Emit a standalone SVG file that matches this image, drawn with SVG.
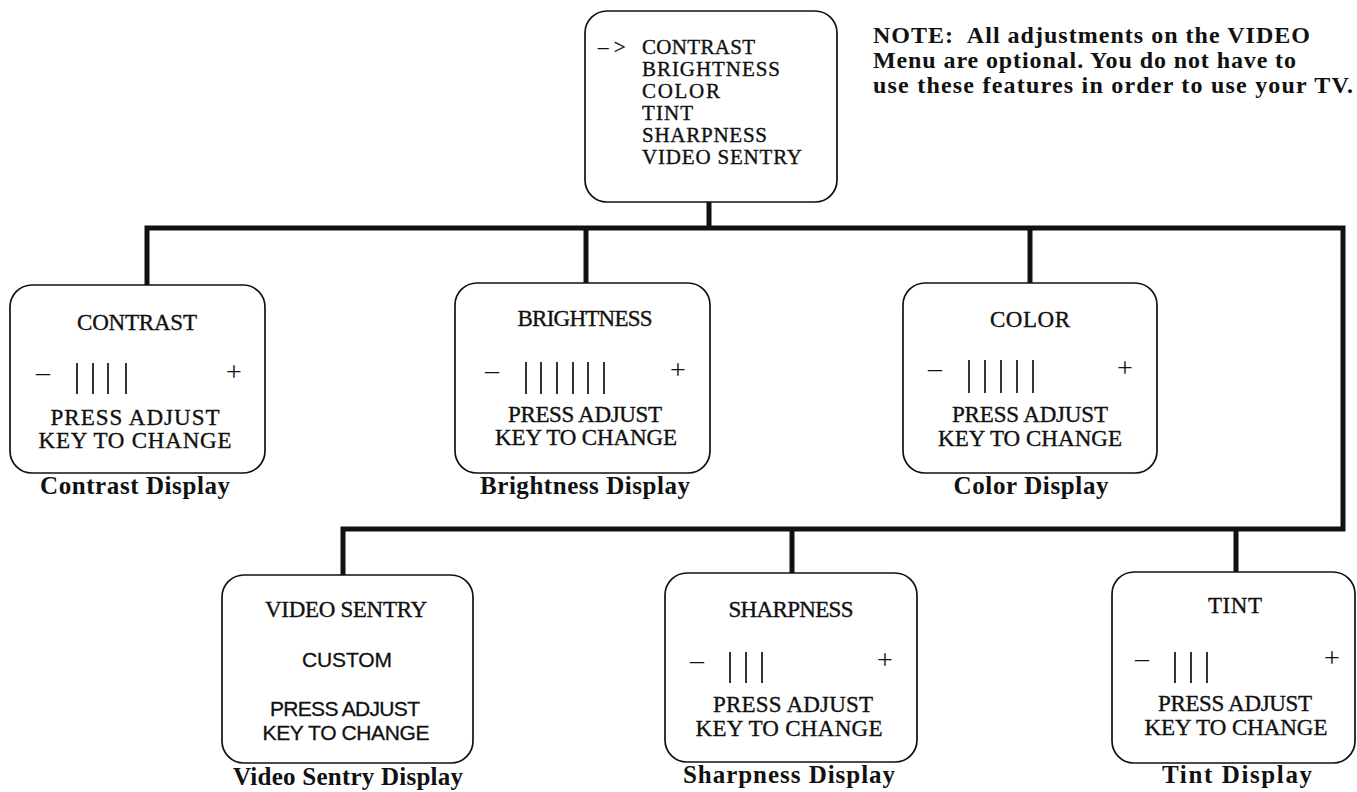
<svg xmlns="http://www.w3.org/2000/svg" width="1357" height="792" viewBox="0 0 1357 792">
<style>
.box{fill:#fff;stroke:#111;stroke-width:1.7}
.conn{fill:none;stroke:#111;stroke-width:5;stroke-linejoin:miter}
.t{font-family:"Liberation Serif","Times New Roman",serif;font-size:23px;fill:#111;stroke:#111;stroke-width:0.35}
.m{font-size:21px}
.s{font-family:"Liberation Sans",Arial,sans-serif;font-size:21px;fill:#111;stroke:#111;stroke-width:0.3}
.cap{font-family:"Liberation Serif","Times New Roman",serif;font-weight:bold;font-size:25px;fill:#111;text-anchor:middle}
.note{font-family:"Liberation Serif","Times New Roman",serif;font-weight:bold;font-size:24px;fill:#111}
.pm{font-family:"Liberation Serif","Times New Roman",serif;font-size:28px;fill:#111;text-anchor:middle}
.c{text-anchor:middle}
.bar{stroke:#111;stroke-width:1.7}
</style>
<rect width="1357" height="792" fill="#fff"/>
<g id="connectors">
<path class="conn" d="M709,202 V228"/>
<path class="conn" d="M147,285 V228 H1343 V529 H343 V575"/>
<path class="conn" d="M586,228 V283"/>
<path class="conn" d="M1030,228 V283"/>
<path class="conn" d="M792,529 V573"/>
<path class="conn" d="M1236,529 V572"/>
</g>
<g id="note">
<text class="note" x="873" y="43" textLength="437" xml:space="preserve">NOTE:  All adjustments on the VIDEO</text>
<text class="note" x="873" y="68" textLength="423">Menu are optional. You do not have to</text>
<text class="note" x="873" y="93" textLength="480">use these features in order to use your TV.</text>
</g>
<g id="video-menu">
<rect class="box" x="585" y="11" width="252" height="191" rx="22"/>
<text class="t m" x="598" y="54" xml:space="preserve">– &gt;</text>
<text class="t m" x="642" y="54" textLength="113">CONTRAST</text>
<text class="t m" x="642" y="76" textLength="138">BRIGHTNESS</text>
<text class="t m" x="642" y="98" textLength="78">COLOR</text>
<text class="t m" x="642" y="120" textLength="51">TINT</text>
<text class="t m" x="642" y="142" textLength="125">SHARPNESS</text>
<text class="t m" x="642" y="164" textLength="160">VIDEO SENTRY</text>
</g>
<g id="contrast">
<rect class="box" x="10" y="285" width="255" height="188" rx="22"/>
<text class="t c" x="137" y="330" textLength="120">CONTRAST</text>
<text class="pm" x="43" y="381">–</text>
<path class="bar" d="M77,363V394M93,363V394M108,363V394M126,363V394"/>
<text class="pm" x="234" y="381">+</text>
<text class="t c" x="135" y="425" textLength="169">PRESS ADJUST</text>
<text class="t c" x="135" y="448" textLength="193">KEY TO CHANGE</text>
<text class="cap" x="135" y="494" textLength="190">Contrast Display</text>
</g>
<g id="brightness">
<rect class="box" x="455" y="283" width="255" height="190" rx="22"/>
<text class="t c" x="585" y="326" textLength="135">BRIGHTNESS</text>
<text class="pm" x="492" y="379">–</text>
<path class="bar" d="M526,362V394M541,362V394M557,362V394M573,362V394M588,362V394M604,362V394"/>
<text class="pm" x="678" y="379">+</text>
<text class="t c" x="585" y="422" textLength="154">PRESS ADJUST</text>
<text class="t c" x="586" y="445" textLength="182">KEY TO CHANGE</text>
<text class="cap" x="585" y="494" textLength="210">Brightness Display</text>
</g>
<g id="color">
<rect class="box" x="903" y="283" width="254" height="190" rx="22"/>
<text class="t c" x="1030" y="327" textLength="80">COLOR</text>
<text class="pm" x="935" y="377">–</text>
<path class="bar" d="M969,360V393M985,360V393M1001,360V393M1017,360V393M1033,360V393"/>
<text class="pm" x="1125" y="377">+</text>
<text class="t c" x="1030" y="422" textLength="156">PRESS ADJUST</text>
<text class="t c" x="1030" y="446" textLength="184">KEY TO CHANGE</text>
<text class="cap" x="1031" y="494" textLength="155">Color Display</text>
</g>
<g id="video-sentry">
<rect class="box" x="222" y="575" width="251" height="188" rx="22"/>
<text class="t c" x="346" y="617" textLength="162">VIDEO SENTRY</text>
<text class="s c" x="347" y="667" textLength="90">CUSTOM</text>
<text class="s c" x="345" y="716" textLength="150">PRESS ADJUST</text>
<text class="s c" x="346" y="740" textLength="167">KEY TO CHANGE</text>
<text class="cap" x="348" y="785" textLength="230">Video Sentry Display</text>
</g>
<g id="sharpness">
<rect class="box" x="665" y="573" width="252" height="189" rx="22"/>
<text class="t c" x="791" y="617" textLength="125">SHARPNESS</text>
<text class="pm" x="697" y="669">–</text>
<path class="bar" d="M730,652V683M746,652V683M762,652V683"/>
<text class="pm" x="885" y="669">+</text>
<text class="t c" x="793" y="712" textLength="160">PRESS ADJUST</text>
<text class="t c" x="789" y="736" textLength="187">KEY TO CHANGE</text>
<text class="cap" x="789" y="783" textLength="212">Sharpness Display</text>
</g>
<g id="tint">
<rect class="box" x="1112" y="572" width="243" height="191" rx="22"/>
<text class="t c" x="1235" y="613" textLength="54">TINT</text>
<text class="pm" x="1142" y="667">–</text>
<path class="bar" d="M1175,652V683M1191,652V683M1207,652V683"/>
<text class="pm" x="1332" y="667">+</text>
<text class="t c" x="1235" y="711" textLength="154">PRESS ADJUST</text>
<text class="t c" x="1236" y="735" textLength="183">KEY TO CHANGE</text>
<text class="cap" x="1237" y="783" textLength="150">Tint Display</text>
</g>
</svg>
